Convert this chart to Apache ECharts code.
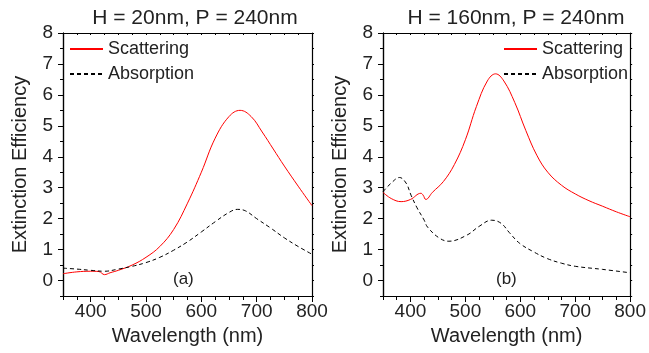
<!DOCTYPE html>
<html><head><meta charset="utf-8">
<script src="https://cdn.jsdelivr.net/npm/echarts@6/dist/echarts.min.js"></script>
<style>html,body{margin:0;padding:0;background:#fff}#c{width:649px;height:353px}</style>
</head><body><div id="c"></div>
<script>
// Panel (a): H = 20nm
const aScatX = [350,375,400,415,425,435,450,475,500,525,550,575,600,625,650,670,690,710,730,750,775,800];
const aScatY = [0.22,0.28,0.30,0.29,0.19,0.25,0.33,0.50,0.75,1.10,1.65,2.50,3.50,4.60,5.30,5.50,5.30,4.80,4.25,3.70,3.05,2.42];
const aAbsX = [350,375,400,425,450,475,500,525,550,575,600,625,650,665,680,700,725,750,775,800];
const aAbsY = [0.40,0.37,0.33,0.30,0.37,0.46,0.58,0.75,0.98,1.25,1.57,1.90,2.20,2.30,2.25,2.00,1.70,1.38,1.10,0.85];
// Panel (b): H = 160nm
const bScatX = [350,365,383,400,419,423,428,440,460,480,500,520,540,555,570,590,610,630,650,675,700,725,750,775,800];
const bScatY = [2.85,2.65,2.55,2.62,2.82,2.76,2.62,2.85,3.20,3.75,4.55,5.62,6.45,6.68,6.45,5.75,4.85,4.05,3.50,3.08,2.80,2.58,2.40,2.22,2.06];
const bAbsX = [350,365,380,392,401,412,425,431,452,470,503,525,548,565,580,599,625,649,675,700,750,800];
const bAbsY = [2.87,3.15,3.33,3.15,2.76,2.35,1.95,1.73,1.38,1.27,1.47,1.75,1.95,1.85,1.55,1.20,0.92,0.71,0.56,0.46,0.36,0.25];

const titles = ['H = 20nm, P = 240nm', 'H = 160nm, P = 240nm'];
const panelLabels = ['(a)', '(b)'];
const seriesNames = ['Scattering', 'Absorption'];
const xMajor = [400,500,600,700,800];
const xMinor = [350,375,425,450,475,525,550,575,625,650,675,725,750,775];
const yMajor = [0,1,2,3,4,5,6,7,8];
const yMinor = [-0.5,0.5,1.5,2.5,3.5,4.5,5.5,6.5,7.5];

const zip = (xs, ys) => xs.map((x, i) => [x, ys[i]]);
const FONT = 'Liberation Sans, Arial, sans-serif';
const TXT = '#222';

const grids = [
  {left: 63, top: 33, width: 249, height: 263},
  {left: 383, top: 33, width: 250, height: 263}
];
const xAxes = [], yAxes = [];
grids.forEach((g, gi) => {
  const ax = {type: 'value', gridIndex: gi, min: 350, max: 800, splitLine: {show: false},
    axisLine: {show: true, onZero: false, lineStyle: {color: '#000', width: 1.2}}};
  xAxes.push(Object.assign({}, ax, {position: 'bottom', name: 'Wavelength (nm)', nameLocation: 'middle', nameGap: 30,
    nameTextStyle: {fontSize: 20, color: TXT, fontFamily: FONT},
    axisTick: {show: true, inside: false, length: 6, customValues: xMajor, lineStyle: {color: '#000'}},
    axisLabel: {show: true, margin: 6, fontSize: 19, color: TXT, fontFamily: FONT, customValues: xMajor}}));
  xAxes.push(Object.assign({}, ax, {position: 'bottom',
    axisTick: {show: true, inside: false, length: 4, customValues: xMinor, lineStyle: {color: '#000'}},
    axisLabel: {show: false}}));
  xAxes.push(Object.assign({}, ax, {position: 'top',
    axisTick: {show: true, inside: true, length: 2, customValues: xMajor.concat(xMinor), lineStyle: {color: '#000'}},
    axisLabel: {show: false}}));
  const ay = {type: 'value', gridIndex: gi, min: -0.5, max: 8, splitLine: {show: false},
    axisLine: {show: true, onZero: false, lineStyle: {color: '#000', width: 1.2}}};
  yAxes.push(Object.assign({}, ay, {position: 'left', name: 'Extinction Efficiency', nameLocation: 'middle', nameGap: 33,
    nameTextStyle: {fontSize: 20, color: TXT, fontFamily: FONT},
    axisTick: {show: true, inside: false, length: 5, customValues: yMajor, lineStyle: {color: '#000'}},
    axisLabel: {show: true, margin: 10, fontSize: 19, color: TXT, fontFamily: FONT, customValues: yMajor}}));
  yAxes.push(Object.assign({}, ay, {position: 'left',
    axisTick: {show: true, inside: false, length: 3, customValues: yMinor, lineStyle: {color: '#000'}},
    axisLabel: {show: false}}));
  yAxes.push(Object.assign({}, ay, {position: 'right',
    axisTick: {show: true, inside: false, length: 2, customValues: yMajor.concat(yMinor), lineStyle: {color: '#000'}},
    axisLabel: {show: false}}));
});

const mk = (name, gi, data, dashed) => ({
  type: 'line', name, xAxisIndex: gi * 3, yAxisIndex: gi * 3, data, smooth: 0.4,
  symbol: 'none', showSymbol: false, animation: false,
  itemStyle: {color: dashed ? '#000' : '#ff0000', opacity: 0},
  lineStyle: dashed ? {color: '#000', width: 1, type: [4, 3]} : {color: '#ff0000', width: 1}
});
const series = [
  mk(seriesNames[0], 0, zip(aScatX, aScatY), false),
  mk(seriesNames[1], 0, zip(aAbsX, aAbsY), true),
  mk(seriesNames[0], 1, zip(bScatX, bScatY), false),
  mk(seriesNames[1], 1, zip(bAbsX, bAbsY), true)
];

const legendBase = {orient: 'vertical', itemWidth: 33, itemHeight: 14, itemGap: 7, top: 40, padding: 0,
  itemStyle: {opacity: 0},
  textStyle: {fontSize: 18, color: TXT, fontFamily: FONT}, data: seriesNames, selectedMode: false};

const chart = echarts.init(document.getElementById('c'), null, {renderer: 'canvas'});
chart.setOption({
  animation: false,
  backgroundColor: '#fff',
  title: [
    {text: titles[0], left: 190, top: 3, textAlign: 'center', textStyle: {fontSize: 21, fontWeight: 'normal', color: TXT, fontFamily: FONT}},
    {text: titles[1], left: 511, top: 3, textAlign: 'center', textStyle: {fontSize: 21, fontWeight: 'normal', color: TXT, fontFamily: FONT}}
  ],
  legend: [
    Object.assign({}, legendBase, {left: 69}),
    Object.assign({}, legendBase, {left: 503})
  ],
  grid: grids,
  xAxis: xAxes,
  yAxis: yAxes,
  series,
  graphic: [
    {type: 'text', left: 173, top: 271, style: {text: panelLabels[0], fontSize: 17, fill: TXT, fontFamily: FONT}},
    {type: 'text', left: 496, top: 271, style: {text: panelLabels[1], fontSize: 17, fill: TXT, fontFamily: FONT}}
  ]
});
</script></body></html>
